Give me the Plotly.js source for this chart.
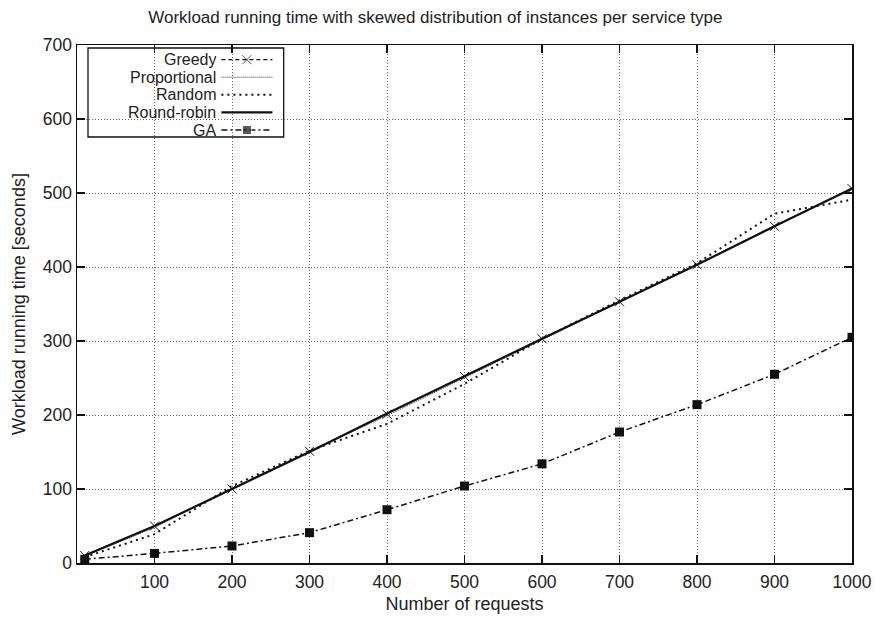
<!DOCTYPE html>
<html>
<head>
<meta charset="utf-8">
<script src="https://cdn.plot.ly/plotly-3.0.1.min.js"></script>
<style>html,body{margin:0;padding:0;background:#fff;}#chart{width:876px;height:619px;}</style>
</head>
<body>
<div id="chart"></div>
<script>
// ---- data ----
const requests = [10, 100, 200, 300, 400, 500, 600, 700, 800, 900, 1000];
const greedy      = [10, 50, 100, 151, 201, 252, 303, 353, 403, 455, 506];
const proportional= [9, 48, 101, 151, 199, 250, 302, 353, 404, 456, 505];
const randomSeries= [8, 39, 104, 152, 188, 242, 303, 355, 405, 472, 491];
const roundRobin  = [10, 50, 100, 150, 202, 253, 303, 353, 403, 455, 506];
const ga          = [5, 13, 23, 41, 72, 104, 134, 177, 214, 255, 305];
const seriesNames = ['Greedy', 'Proportional', 'Random', 'Round-robin', 'GA'];
const xTicks = [100, 200, 300, 400, 500, 600, 700, 800, 900, 1000];
const yTicks = [0, 100, 200, 300, 400, 500, 600, 700];

// ---- styles ----
const FONT = 'Liberation Sans, Arial, sans-serif';
const styles = [
  {line: {color: '#111', width: 1.2, dash: '4px,3px'}, mode: 'lines+markers',
   marker: {symbol: 'x-thin-open', size: 9, color: '#111', line: {width: 1, color: '#111'}}},
  {line: {color: '#333', width: 1, dash: '1px,1px'}, mode: 'lines'},
  {line: {color: '#111', width: 2, dash: '2px,4px'}, mode: 'lines'},
  {line: {color: '#111', width: 2.2}, mode: 'lines'},
  {line: {color: '#111', width: 1.5, dash: '6px,3px,2px,3px'}, mode: 'lines+markers',
   marker: {symbol: 'square', size: 9, color: '#111'}}
];
const values = [greedy, proportional, randomSeries, roundRobin, ga];

const traces = values.map((v, i) => Object.assign({
  x: requests, y: v, type: 'scatter', name: seriesNames[i],
  showlegend: false, hoverinfo: 'x+y'
}, JSON.parse(JSON.stringify(styles[i]))));

// ---- custom gnuplot-style legend (text right, sample on its right) ----
const legRowsY = [0.9717, 0.9378, 0.9038, 0.8698, 0.8358];
const sampleX = [0.1863, 0.2192, 0.2521];
const annotations = [];
seriesNames.forEach((n, i) => {
  const st = JSON.parse(JSON.stringify(styles[i]));
  const tr = {
    x: sampleX, y: [legRowsY[i], legRowsY[i], legRowsY[i]],
    xaxis: 'x2', yaxis: 'y2', type: 'scatter', mode: st.mode,
    line: st.line, showlegend: false, hoverinfo: 'skip'
  };
  if (st.marker) { st.marker.size = [0, st.marker.size, 0]; tr.marker = st.marker; }
  traces.push(tr);
  annotations.push({
    xref: 'paper', yref: 'paper', x: 0.1819, y: legRowsY[i],
    xanchor: 'right', yanchor: 'middle', text: n, showarrow: false,
    height: 17, valign: 'middle',
    font: {family: FONT, size: 16, color: '#222'}
  });
});

const axFont = {family: FONT, size: 17.5, color: '#222'};
const layout = {
  width: 876, height: 619,
  margin: {l: 77, r: 24, t: 45, b: 56},
  paper_bgcolor: '#fff', plot_bgcolor: '#fff',
  title: {text: 'Workload running time with skewed distribution of instances per service type',
          x: 0.497, xref: 'container', xanchor: 'center', y: 0.972, yref: 'container', yanchor: 'middle',
          font: {family: FONT, size: 17, color: '#222'}},
  xaxis: {
    range: [0, 1000], tickvals: xTicks, ticktext: xTicks.map(String),
    showline: true, linecolor: '#111', linewidth: 1.5, mirror: 'ticks',
    ticks: 'inside', ticklen: 8, tickwidth: 1.3, tickcolor: '#111',
    showgrid: true, gridcolor: '#666', griddash: '1px,2px', gridwidth: 1,
    zeroline: false, tickfont: axFont, ticklabelstandoff: 2,
    title: {text: 'Number of requests', font: {family: FONT, size: 18, color: '#222'}, standoff: 7}
  },
  yaxis: {
    range: [0, 700], tickvals: yTicks, ticktext: yTicks.map(String),
    showline: true, linecolor: '#111', linewidth: 1.5, mirror: 'ticks',
    ticks: 'inside', ticklen: 8, tickwidth: 1.3, tickcolor: '#111',
    showgrid: true, gridcolor: '#666', griddash: '1px,2px', gridwidth: 1,
    zeroline: false, tickfont: axFont,
    title: {text: 'Workload running time [seconds]', font: {family: FONT, size: 18, color: '#222'}, standoff: 12}
  },
  xaxis2: {overlaying: 'x', range: [0, 1], visible: false, fixedrange: true},
  yaxis2: {overlaying: 'y', range: [0, 1], visible: false, fixedrange: true},
  shapes: [{type: 'rect', xref: 'paper', yref: 'paper', x0: 0.0142, x1: 0.2667, y0: 0.8224, y1: 0.9942,
            line: {color: '#111', width: 1.3}, fillcolor: '#fff', layer: 'between'}],
  annotations: annotations,
  showlegend: false
};
Plotly.newPlot('chart', traces, layout, {displayModeBar: false, staticPlot: true});
</script>
</body>
</html>
